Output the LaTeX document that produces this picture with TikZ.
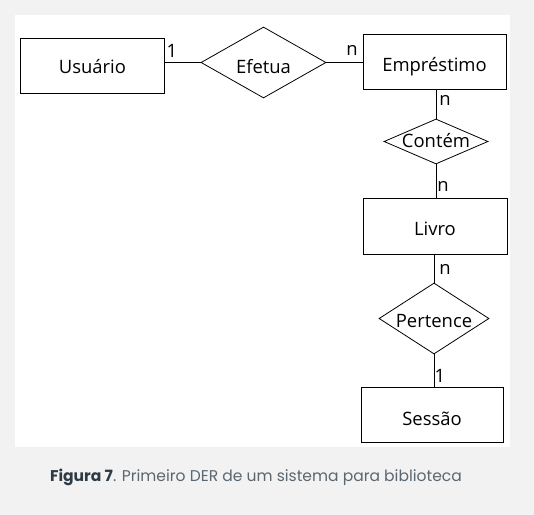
\documentclass[tikz,border=0pt]{standalone}
\usepackage{fontspec}
\setmainfont{Open Sans}
\newfontfamily\capfont{Poppins}
\usetikzlibrary{shapes.geometric}
\definecolor{capcol}{HTML}{2E3B46}
\definecolor{capcolb}{HTML}{5A6670}
\definecolor{bggray}{HTML}{F2F2F2}
\tikzset{
  entity/.style={draw=black, line width=1bp, fill=white, minimum width=#1, minimum height=55bp, inner sep=0pt, text depth=0pt, text height=17bp, font=\fontsize{18.5}{22}\selectfont},
  rel/.style={draw=black, line width=0.8bp, diamond, inner sep=0pt, text depth=0pt, text height=17bp, font=\fontsize{18.5}{22}\selectfont},
  conn/.style={line width=1bp, black},
  card/.style={font=\fontsize{18.5}{22}\selectfont, inner sep=0pt}
}
\begin{document}
\begin{tikzpicture}[x=1bp,y=-1bp]
\useasboundingbox (0,0) rectangle (534,515);
\fill[bggray] (0,0) rectangle (534,515);
\fill[white] (15,15) rectangle (510,447);
% entities
\node[entity=143bp, text height=15bp] (usu) at (92.5,66.5) {Usuário};
\node[entity=143bp, text height=19bp] (emp) at (434.5,62.5) {Empréstimo};
\node[entity=144bp] (liv) at (435,226.5) {Livro};
\node[entity=142bp, text height=21bp] (ses) at (432,414.5) {Sessão};
% relationships
\node[rel, minimum width=125bp, minimum height=71bp, aspect=1.76, text height=22bp] (efe) at (263.5,62.5) {Efetua};
\node[rel, minimum width=104bp, minimum height=45bp, aspect=2.3, text height=12bp] (con) at (436,141.5) {Contém};
\node[rel, minimum width=110bp, minimum height=71bp, aspect=1.55] (per) at (434,318.5) {Pertence};
% connectors
\draw[conn] (efe.west) -- (efe.west -| usu.east);
\draw[conn] (efe.east) -- (efe.east -| emp.west);
\draw[conn] (con.north) -- (con.north |- emp.south);
\draw[conn] (con.south) -- (con.south |- liv.north);
\draw[conn] (per.north) -- (per.north |- liv.south);
\draw[conn] (per.south) -- (per.south |- ses.north);
% cardinalities
\node[card] (c1) at (172,51) {1};
\node[card] (c2) at (352,50) {n};
\node[card] (c3) at (445,100) {n};
\node[card] (c4) at (443,186) {n};
\node[card] (c5) at (445,269) {n};
\node[card] (c6) at (440,376) {1};
% caption
\node[font=\capfont\fontsize{15.6}{18}\selectfont, inner sep=0pt] (cap) at (256,477) {\textcolor{capcol}{\bfseries Figura 7}\textcolor{capcolb}{. Primeiro DER de um sistema para biblioteca}};
\end{tikzpicture}
\end{document}
